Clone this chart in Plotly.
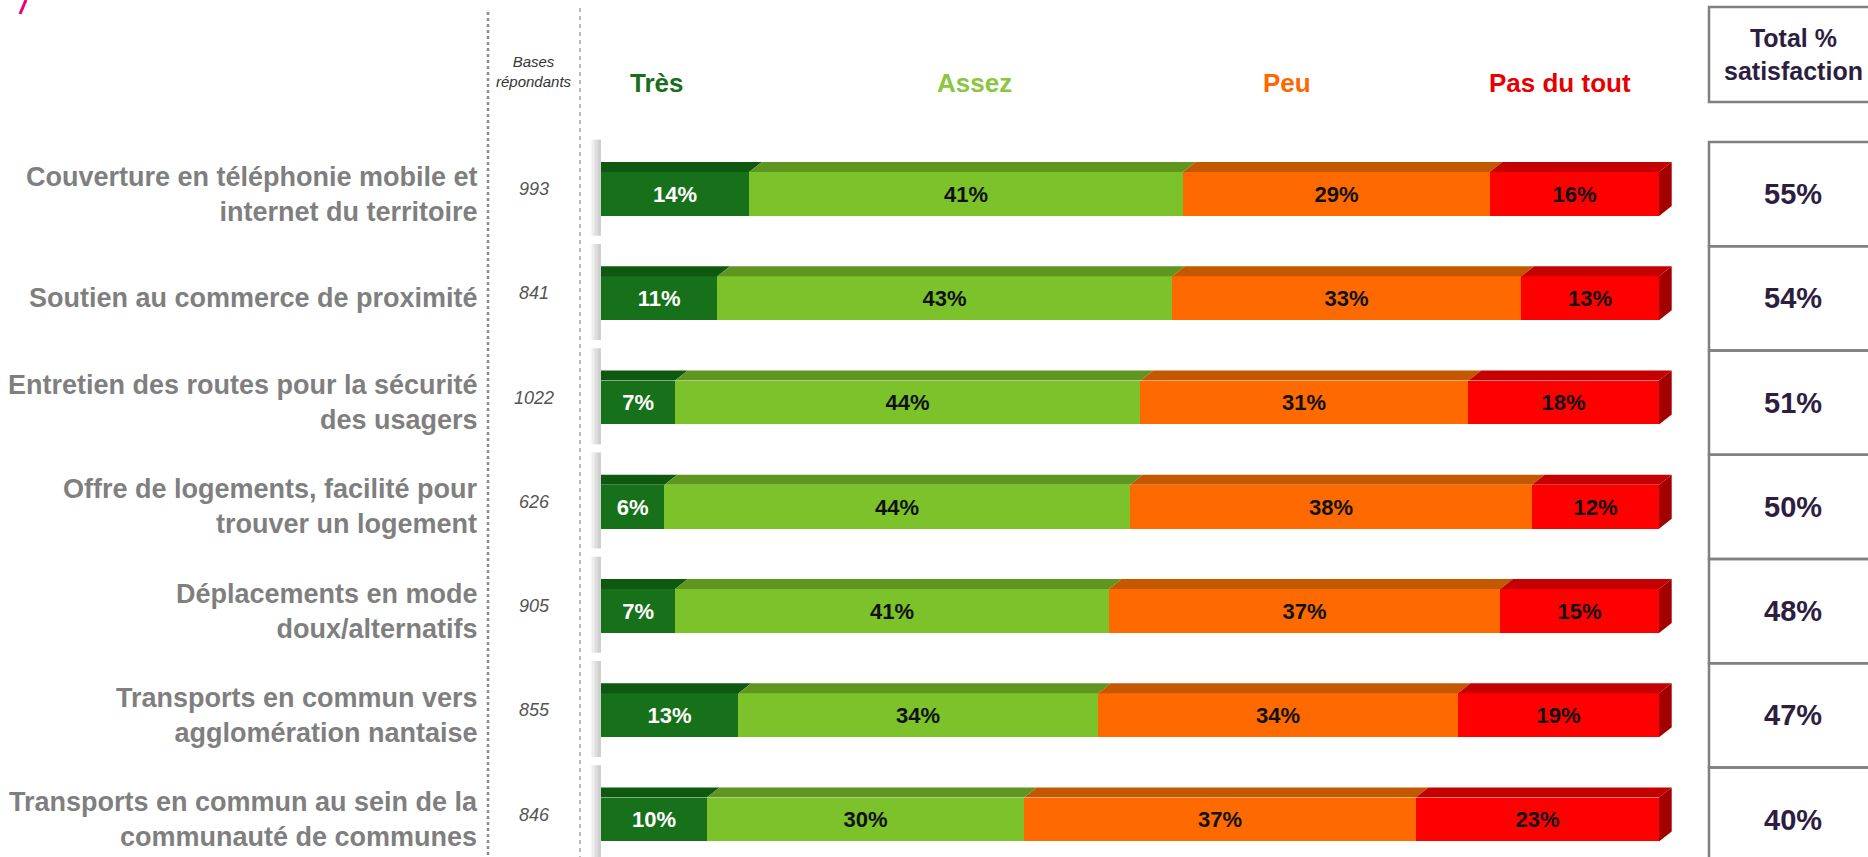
import plotly.graph_objects as go

# --- data ---
items = [
    "Couverture en téléphonie mobile et<br>internet du territoire",
    "Soutien au commerce de proximité",
    "Entretien des routes pour la sécurité<br>des usagers",
    "Offre de logements, facilité pour<br>trouver un logement",
    "Déplacements en mode<br>doux/alternatifs",
    "Transports en commun vers<br>agglomération nantaise",
    "Transports en commun au sein de la<br>communauté de communes",
]
bases = [993, 841, 1022, 626, 905, 855, 846]
levels = ["Très", "Assez", "Peu", "Pas du tout"]
tres = [14, 11, 7, 6, 7, 13, 10]
assez = [41, 43, 44, 44, 41, 34, 30]
peu = [29, 33, 31, 38, 37, 34, 37]
pas_du_tout = [16, 13, 18, 12, 15, 19, 23]
total_satisfaction = [55, 54, 51, 50, 48, 47, 40]

series = [tres, assez, peu, pas_du_tout]

# --- styles ---
front_colors = ["#17701a", "#7cc22a", "#ff6a00", "#ff0000"]
top_colors = ["#0e5810", "#5f9620", "#c45800", "#c40000"]
side_color = "#a30000"
header_colors = ["#1b6e1b", "#8cc63f", "#ff6600", "#e60000"]
label_colors = ["white", "#111111", "#111111", "#111111"]
header_x_px = [657, 974, 1287, 1560]

FONT = "Liberation Sans, Arial, sans-serif"
NARROW = "Liberation Sans Narrow, Liberation Sans, Arial, sans-serif"
W, H = 1868, 857
X0_PX, PX_PER_PCT = 601, 10.58
ROW0_PX, ROW_STEP = 194, 104.25
BAR_W = 0.42
DX = 1.2            # 3D depth, in % units
DY = 10 / ROW_STEP  # 3D depth, in row units

x_lo, x_hi = -1.5, 102
dom_l = (X0_PX + x_lo * PX_PER_PCT) / W
dom_r = (X0_PX + x_hi * PX_PER_PCT) / W
r_top = -ROW0_PX / ROW_STEP
r_bot = r_top + H / ROW_STEP

rows = list(range(len(items)))

fig = go.Figure()
for j, vals in enumerate(series):
    fig.add_trace(go.Bar(
        y=rows, x=vals, orientation="h", width=BAR_W,
        marker=dict(color=front_colors[j], line=dict(width=0)),
        text=[f"<b>{v}%</b>" for v in vals],
        textposition="inside", insidetextanchor="middle",
        textangle=0, constraintext="none",
        textfont=dict(family=FONT, size=22, color=label_colors[j]),
        name=levels[j], hoverinfo="skip",
    ))

shapes = []
for i in rows:
    yt = i - BAR_W / 2
    yb = i + BAR_W / 2
    # soft shadow left of each bar
    for w in [0.9, 0.6, 0.3]:
        shapes.append(dict(type="rect", xref="x", yref="y", x0=-w, x1=0,
                           y0=i - 0.52, y1=i + 0.4, line=dict(width=0),
                           fillcolor="#808080", opacity=0.14, layer="below"))
    start = 0
    for j, vals in enumerate(series):
        end = start + vals[i]
        s_top = start if j == 0 else start + DX
        path = (f"M {start},{yt} L {s_top},{yt - DY} L {end + DX},{yt - DY} "
                f"L {end},{yt} Z")
        shapes.append(dict(type="path", xref="x", yref="y", path=path,
                           fillcolor=top_colors[j], line=dict(width=0)))
        start = end
    path = (f"M {start},{yt} L {start + DX},{yt - DY} L {start + DX},{yb - DY} "
            f"L {start},{yb} Z")
    shapes.append(dict(type="path", xref="x", yref="y", path=path,
                       fillcolor=side_color, line=dict(width=0)))
    # total satisfaction cell
    shapes.append(dict(type="rect", xref="paper", yref="y",
                       x0=1709 / W, x1=1.02, y0=i - 0.5, y1=i + 0.5,
                       line=dict(color="#808080", width=2.5),
                       fillcolor="rgba(0,0,0,0)"))

# header cell for totals
shapes.append(dict(type="rect", xref="paper", yref="paper",
                   x0=1709 / W, x1=1.02, y0=1 - 102 / H, y1=1 - 7 / H,
                   line=dict(color="#808080", width=2.5)))
# dotted separators
shapes.append(dict(type="line", xref="paper", yref="paper",
                   x0=488 / W, x1=488 / W, y0=1 - 12 / H, y1=0,
                   line=dict(color="#8c8c8c", width=2.5, dash="dot")))
shapes.append(dict(type="line", xref="paper", yref="paper",
                   x0=580 / W, x1=580 / W, y0=1 - 8 / H, y1=0,
                   line=dict(color="#a6a6a6", width=1.5, dash="4px,4px")))
# little pink mark top-left
shapes.append(dict(type="line", xref="paper", yref="paper",
                   x0=20 / W, x1=26 / W, y0=1 - 14 / H, y1=1,
                   line=dict(color="#e6007e", width=3)))


def note(x, y, text, font, xref="paper", yref="paper", xanchor="center", **kw):
    return dict(xref=xref, yref=yref, x=x, y=y, text=text, showarrow=False,
                xanchor=xanchor, yanchor="middle", font=font, **kw)


annotations = []
for j, name in enumerate(levels):
    annotations.append(note(header_x_px[j] / W, 1 - 83 / H, f"<b>{name}</b>",
                            dict(family=FONT, size=26, color=header_colors[j])))
annotations.append(note(534 / W, 1 - 72 / H, "<i>Bases<br>répondants</i>",
                        dict(family=NARROW, size=15, color="#333333")))
annotations.append(note(1793 / W, 1 - 54 / H, "<b>Total %<br>satisfaction</b>",
                        dict(family=FONT, size=25, color="#2d1e3f")))
for i in rows:
    annotations.append(note(480 / W, i, f"<b>{items[i]}</b>",
                            dict(family=FONT, size=27, color="#7f7f7f"),
                            yref="y", xanchor="right", align="right"))
    annotations.append(note(534 / W, i, f"<i>{bases[i]}</i>",
                            dict(family=FONT, size=18, color="#555555"),
                            yref="y", yshift=5))
    annotations.append(note(1793 / W, i, f"<b>{total_satisfaction[i]}%</b>",
                            dict(family=FONT, size=29, color="#2d1e3f"),
                            yref="y"))

fig.update_layout(
    width=W, height=H,
    margin=dict(l=0, r=0, t=0, b=0),
    barmode="stack", bargap=0,
    showlegend=False,
    plot_bgcolor="white", paper_bgcolor="white",
    xaxis=dict(domain=[dom_l, dom_r], range=[x_lo, x_hi], visible=False,
               fixedrange=True),
    yaxis=dict(domain=[0, 1], range=[r_bot, r_top], visible=False,
               fixedrange=True),
    shapes=shapes,
    annotations=annotations,
)

fig.write_html("out.html", config={"displayModeBar": False},
               post_script="document.body.style.margin='0';")
